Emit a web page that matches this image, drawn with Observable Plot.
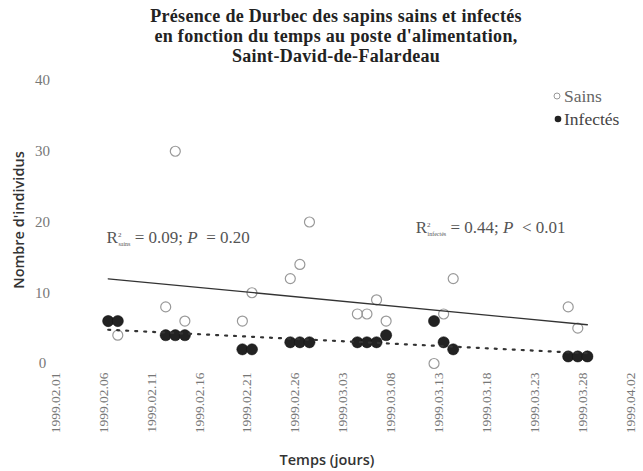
<!DOCTYPE html>
<html>
<head>
<meta charset="utf-8">
<script src="https://cdn.jsdelivr.net/npm/d3@7"></script>
<script src="https://cdn.jsdelivr.net/npm/@observablehq/plot@0.6"></script>
<style>
  body { margin: 0; background: #fff; }
  #wrap { position: relative; width: 643px; height: 471px; overflow: hidden; }
  #title { height: 60px; box-sizing: border-box; padding-top: 5.5px; padding-left: 29px; text-align: center;
           font: bold 18px/20px "Liberation Serif", "Times New Roman", serif; letter-spacing: 0.3px;
           color: #222; white-space: nowrap; }
  #chart svg { display: block; }
</style>
</head>
<body>
<div id="wrap">
  <div id="title">Présence de Durbec des sapins sains et infectés<br>en fonction du temps au poste d'alimentation,<br>Saint-David-de-Falardeau</div>
  <div id="chart"></div>
</div>
<script>
// Observation dates (one point per day, plotted at mid-day)
const dates = [
  "1999-02-06", "1999-02-07",
  "1999-02-12", "1999-02-13", "1999-02-14",
  "1999-02-20", "1999-02-21",
  "1999-02-25", "1999-02-26", "1999-02-27",
  "1999-03-04", "1999-03-05", "1999-03-06", "1999-03-07",
  "1999-03-12", "1999-03-13", "1999-03-14",
  "1999-03-26", "1999-03-27", "1999-03-28"
];
// Sains (open circles)
const sains = [6, 4, 8, 30, 6, 6, 10, 12, 14, 20, 7, 7, 9, 6, 0, 7, 12, 8, 5, 1];
// Infectés (filled circles)
const infectes = [6, 6, 4, 4, 4, 2, 2, 3, 3, 3, 3, 3, 3, 4, 6, 3, 2, 1, 1, 1];

// Axis ticks
const xTicks = [
  "1999-02-01", "1999-02-06", "1999-02-11", "1999-02-16", "1999-02-21", "1999-02-26",
  "1999-03-03", "1999-03-08", "1999-03-13", "1999-03-18", "1999-03-23", "1999-03-28", "1999-04-02"
];
const yTicks = [0, 10, 20, 30, 40];

// Regression annotations
const annotations = [
  {date: "1999-02-06T08:00Z", value: 17.8, sub: "sains", stat: " = 0.09; ", op: "\u00a0\u00a0= 0.20"},
  {date: "1999-03-10T14:00Z", value: 19.2, sub: "infectés", stat: " = 0.44; ", op: "\u00a0\u00a0< 0.01"}
];

const seriesNames = ["Sains", "Infectés"];

const data = dates.map((d, i) => ({
  date: new Date(d + "T12:00Z"),
  sains: sains[i],
  infectes: infectes[i]
}));
const ann = annotations.map(a => ({...a, date: new Date(a.date), label: "R"}));
const tickDates = xTicks.map(d => new Date(d + "T00:00Z"));
const fmt = d3.utcFormat("%Y.%m.%d");

const plot = Plot.plot({
  width: 643,
  height: 411,
  marginTop: 20,
  marginBottom: 108,
  marginLeft: 55,
  marginRight: 13,
  style: {fontFamily: "Liberation Serif, serif", background: "white", color: "#777", overflow: "visible"},
  x: {type: "utc", domain: [tickDates[0], tickDates[tickDates.length - 1]]},
  y: {domain: [0, 40]},
  marks: [
    Plot.axisX({ticks: tickDates, tickFormat: fmt, tickRotate: -90, tickSize: 0, tickPadding: 9,
                fontSize: 13.5, label: null}),
    Plot.axisY({ticks: yTicks, tickSize: 0, tickPadding: 13, textAnchor: "middle", fontSize: 15, label: null}),
    Plot.dot(data, {x: "date", y: "sains", r: 5, stroke: "#999", strokeWidth: 1.2, fill: "none"}),
    Plot.dot(data, {x: "date", y: "infectes", r: 5.6, fill: "#222", stroke: "#111", strokeWidth: 0.5}),
    Plot.linearRegressionY(data, {x: "date", y: "sains", stroke: "#333", strokeWidth: 1.3, ci: 0}),
    Plot.linearRegressionY(data, {x: "date", y: "infectes", stroke: "#333", strokeWidth: 2.2,
                                  strokeDasharray: "2,7", ci: 0}),
    Plot.text(ann, {x: "date", y: "value", text: "label", textAnchor: "start", fontSize: 17,
                    fill: "#555", className: "rsq"})
  ]
});

document.getElementById("chart").appendChild(plot);

const svg = d3.select(plot);

// Rich text for R² annotations
svg.selectAll(".rsq text").each(function(d, i) {
  const a = ann[i];
  const t = d3.select(this);
  t.text(null);
  t.append("tspan").text("R");
  t.append("tspan").attr("font-size", 7).attr("dy", -6).text("2");
  t.append("tspan").attr("font-size", 6).attr("dx", -3).attr("dy", 9).text(a.sub);
  t.append("tspan").attr("font-size", 17).attr("dy", -3).text(a.stat);
  t.append("tspan").attr("font-style", "italic").text("P");
  t.append("tspan").text(a.op);
});

// Legend
const legend = svg.append("g").attr("font-family", "Liberation Serif, serif").attr("font-size", 17.5)
  .attr("text-anchor", "start");
legend.append("circle").attr("cx", 557).attr("cy", 36).attr("r", 3).attr("fill", "none")
  .attr("stroke", "#999").attr("stroke-width", 1);
legend.append("text").attr("x", 564).attr("y", 36).attr("dy", "0.35em").attr("fill", "#666").text(seriesNames[0]);
legend.append("circle").attr("cx", 558).attr("cy", 59).attr("r", 3.3).attr("fill", "#222");
legend.append("text").attr("x", 564).attr("y", 59).attr("dy", "0.35em").attr("fill", "#444").text(seriesNames[1]);

// Axis titles
svg.append("text").attr("transform", "translate(19,160) rotate(-90)").attr("text-anchor", "middle")
  .attr("dy", "0.35em").attr("font-family", "Open Sans, sans-serif").attr("font-weight", 600)
  .attr("font-size", 14.5).attr("fill", "#333").text("Nombre d'individus");
svg.append("text").attr("x", 327).attr("y", 400).attr("text-anchor", "middle")
  .attr("dy", "0.35em").attr("font-family", "Open Sans, sans-serif").attr("font-weight", 600)
  .attr("font-size", 14.5).attr("fill", "#333").text("Temps (jours)");
</script>
</body>
</html>
